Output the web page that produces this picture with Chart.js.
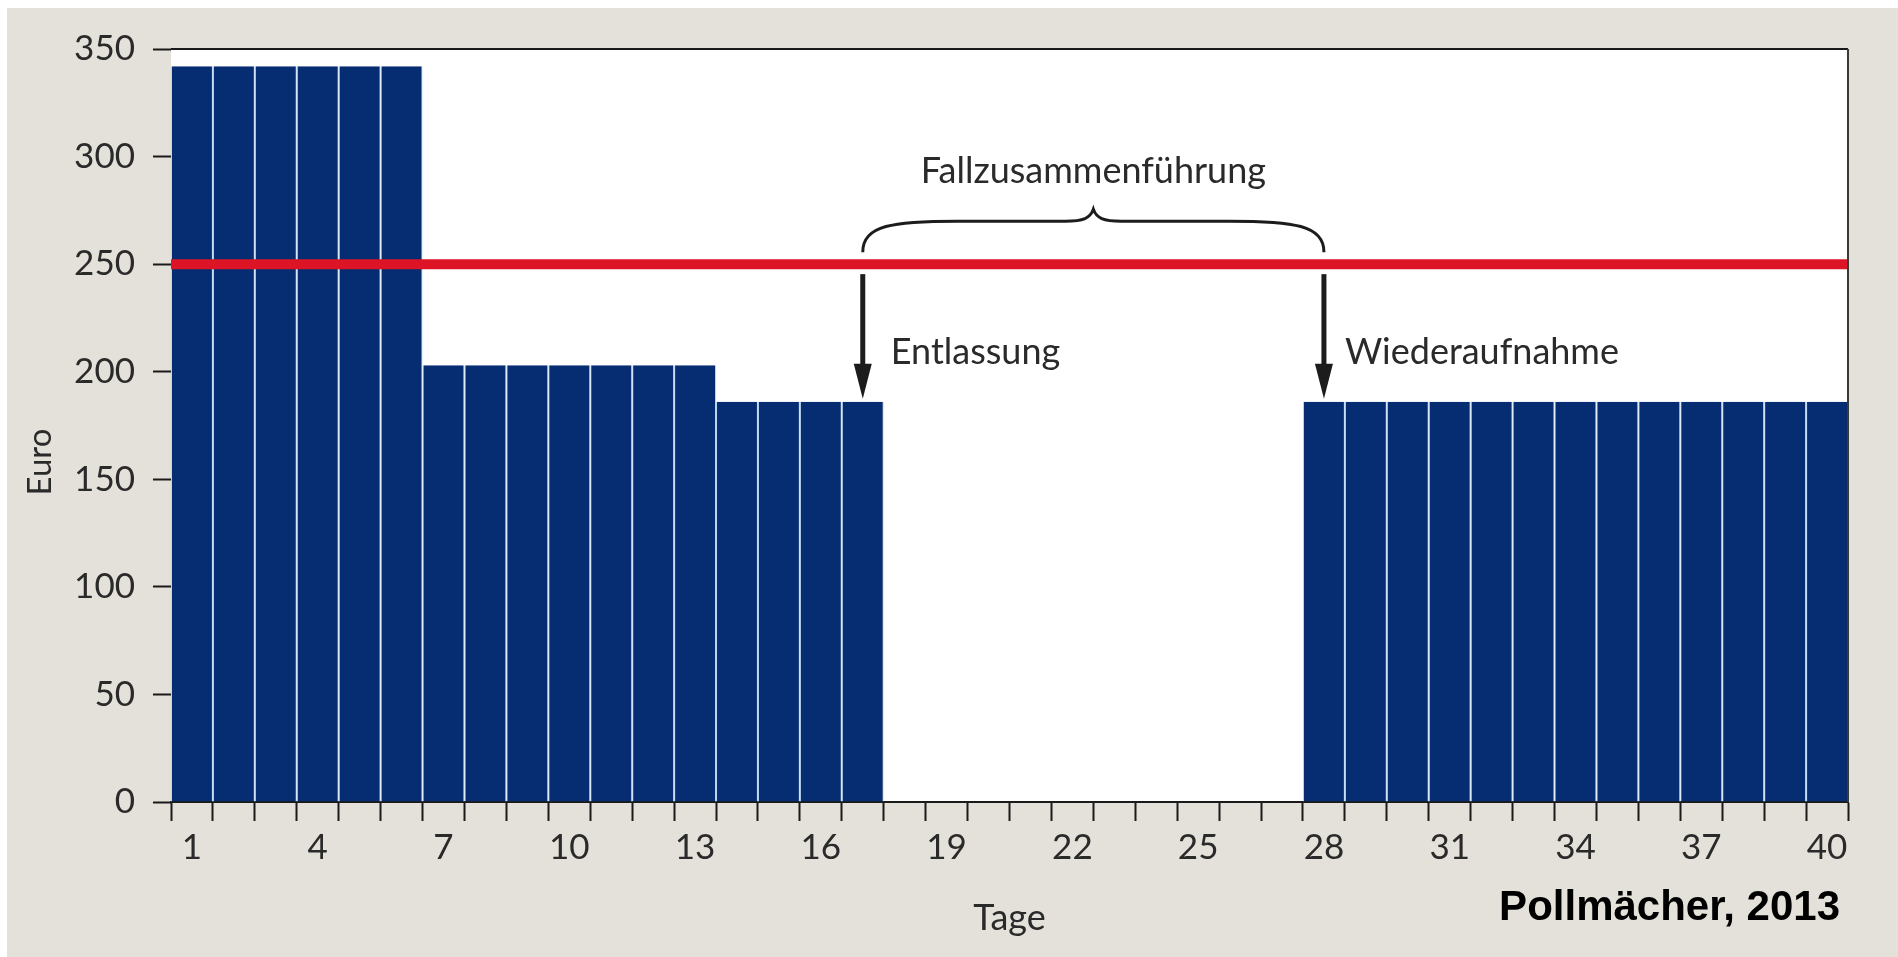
<!DOCTYPE html>
<html>
<head>
<meta charset="utf-8">
<script src="https://cdn.jsdelivr.net/npm/chart.js@4/dist/chart.umd.min.js"></script>
<style>
  html, body { margin: 0; padding: 0; background: #ffffff; }
  #wrap { width: 1898px; height: 957px; position: relative; }
</style>
</head>
<body>
<div id="wrap"><canvas id="c" width="1898" height="957"></canvas></div>
<script>
// ---- data ----
const dayLabels = ['1','2','3','4','5','6','7','8','9','10','11','12','13','14','15','16','17','18','19','20',
                   '21','22','23','24','25','26','27','28','29','30','31','32','33','34','35','36','37','38','39','40'];
const dailyEuro = [342,342,342,342,342,342,
                   203,203,203,203,203,203,203,
                   186,186,186,186,
                   null,null,null,null,null,null,null,null,null,null,
                   186,186,186,186,186,186,186,186,186,186,186,186,186];
const thresholdEuro = 250;
const thresholdSpan = [0, 40];
const yMin = 0, yMax = 350, yStep = 50;
const labelEvery = 3;
const dischargeDay = '17';
const readmitDay = '28';
const txtMerge = 'Fallzusammenführung';
const txtDischarge = 'Entlassung';
const txtReadmit = 'Wiederaufnahme';
const txtX = 'Tage';
const txtY = 'Euro';
const txtSource = 'Pollmächer, 2013';

const FONT = 'Lato, "Open Sans", sans-serif';
const BG = '#e3e1d9';

const decor = {
  id: 'decor',
  beforeDraw(chart) {
    const ctx = chart.ctx, a = chart.chartArea;
    ctx.save();
    ctx.fillStyle = '#ffffff';
    ctx.fillRect(0, 0, chart.width, chart.height);
    ctx.fillStyle = BG;
    ctx.fillRect(7, 8, chart.width - 7, chart.height - 8);
    ctx.fillStyle = '#ffffff';
    ctx.fillRect(a.left, a.top, a.right - a.left, a.bottom - a.top);
    ctx.restore();
  },
  afterDraw(chart) {
    const ctx = chart.ctx, a = chart.chartArea;
    const xs = chart.scales.x, ys = chart.scales.y;
    ctx.save();
    // frame (top + right)
    ctx.strokeStyle = '#1a1a1a';
    ctx.lineWidth = 2;
    ctx.beginPath();
    ctx.moveTo(a.left, a.top);
    ctx.lineTo(a.right, a.top);
    ctx.stroke();
    ctx.strokeStyle = '#3a3a3a';
    ctx.beginPath();
    ctx.moveTo(a.right, a.top);
    ctx.lineTo(a.right, a.bottom);
    ctx.stroke();

    const x1 = xs.getPixelForValue(dayLabels.indexOf(dischargeDay));
    const x2 = xs.getPixelForValue(dayLabels.indexOf(readmitDay));
    const barTop = ys.getPixelForValue(dailyEuro[dayLabels.indexOf(dischargeDay)]);
    const yShaftTop = ys.getPixelForValue(thresholdEuro) + 10;

    // arrows
    ctx.fillStyle = '#1c1c1c';
    ctx.strokeStyle = '#1c1c1c';
    [x1, x2].forEach(x => {
      const tip = barTop - 3;
      const headLen = 35, headW = 9;
      ctx.lineWidth = 5;
      ctx.beginPath();
      ctx.moveTo(x, yShaftTop);
      ctx.lineTo(x, tip - headLen + 4);
      ctx.stroke();
      ctx.beginPath();
      ctx.moveTo(x - headW, tip - headLen);
      ctx.lineTo(x + headW, tip - headLen);
      ctx.lineTo(x, tip);
      ctx.closePath();
      ctx.fill();
    });

    // brace
    const yEnd = ys.getPixelForValue(thresholdEuro) - 12;
    const yFlat = yEnd - 31;
    const yPeak = yFlat - 12;
    const mid = (x1 + x2) / 2;
    ctx.lineWidth = 3;
    ctx.strokeStyle = '#1c1c1c';
    ctx.beginPath();
    ctx.moveTo(x1, yEnd);
    ctx.bezierCurveTo(x1, yFlat + 4, x1 + 30, yFlat, x1 + 95, yFlat);
    ctx.lineTo(mid - 28, yFlat);
    ctx.bezierCurveTo(mid - 10, yFlat, mid - 3, yFlat - 3, mid, yPeak);
    ctx.bezierCurveTo(mid + 3, yFlat - 3, mid + 10, yFlat, mid + 28, yFlat);
    ctx.lineTo(x2 - 95, yFlat);
    ctx.bezierCurveTo(x2 - 30, yFlat, x2, yFlat + 4, x2, yEnd);
    ctx.stroke();

    // texts
    ctx.fillStyle = '#2a2a2a';
    ctx.font = '36px ' + FONT;
    ctx.textBaseline = 'alphabetic';
    ctx.textAlign = 'center';
    ctx.fillText(txtMerge, mid, yPeak - 26);
    ctx.textAlign = 'left';
    ctx.fillText(txtDischarge, x1 + 28, 364);
    ctx.fillText(txtReadmit, x2 + 21, 364);

    // axis titles
    ctx.textAlign = 'center';
    ctx.fillText(txtX, (a.left + a.right) / 2, 930);
    ctx.save();
    ctx.translate(51, 462);
    ctx.rotate(-Math.PI / 2);
    ctx.font = '33px ' + FONT;
    ctx.fillText(txtY, 0, 0);
    ctx.restore();

    // source
    ctx.fillStyle = '#000000';
    ctx.font = 'bold 42px "Liberation Sans", Arial, sans-serif';
    ctx.textAlign = 'right';
    ctx.textBaseline = 'middle';
    ctx.fillText(txtSource, 1840, 908);
    ctx.restore();
  }
};

new Chart(document.getElementById('c'), {
  type: 'bar',
  data: {
    labels: dayLabels,
    datasets: [
      {
        type: 'bar',
        data: dailyEuro,
        xAxisID: 'x',
        backgroundColor: '#062c72',
        borderColor: '#bcd6f2',
        borderWidth: { left: 1, right: 1, top: 0, bottom: 0 },
        borderSkipped: 'start',
        barPercentage: 1,
        categoryPercentage: 1,
        grouped: false,
        inflateAmount: 0,
        order: 1
      },
      {
        type: 'line',
        data: thresholdSpan.map(x => ({ x: x, y: thresholdEuro })),
        xAxisID: 'xl',
        borderColor: '#dc1425',
        borderWidth: 10,
        pointRadius: 0,
        fill: false,
        order: 0
      }
    ]
  },
  options: {
    responsive: false,
    animation: false,
    devicePixelRatio: 1,
    layout: { padding: { left: 0, right: 50, top: 49, bottom: 0 } },
    plugins: { legend: { display: false }, tooltip: { enabled: false } },
    scales: {
      x: {
        type: 'category',
        offset: true,
        grid: { offset: true, drawOnChartArea: false, drawTicks: true, tickLength: 19, tickColor: '#1a1a1a', tickWidth: 2 },
        border: { display: true, color: '#1a1a1a', width: 2 },
        ticks: {
          autoSkip: false, maxRotation: 0, padding: 6,
          color: '#2a2a2a', font: { family: FONT, size: 35 },
          callback: (v, i) => (i % labelEvery === 0 ? dayLabels[i] : '')
        },
        afterFit: s => { s.height = 155; }
      },
      xl: {
        type: 'linear', display: false, offset: false, grid: { offset: false },
        min: thresholdSpan[0], max: thresholdSpan[1]
      },
      y: {
        min: yMin, max: yMax,
        grid: { drawOnChartArea: false, drawTicks: true, tickLength: 18, tickColor: '#1a1a1a', tickWidth: 2 },
        border: { display: false },
        ticks: { stepSize: yStep, padding: 18, color: '#2a2a2a', font: { family: FONT, size: 35 } },
        afterFit: s => { s.width = 171; }
      }
    }
  },
  plugins: [decor]
});
</script>
</body>
</html>
